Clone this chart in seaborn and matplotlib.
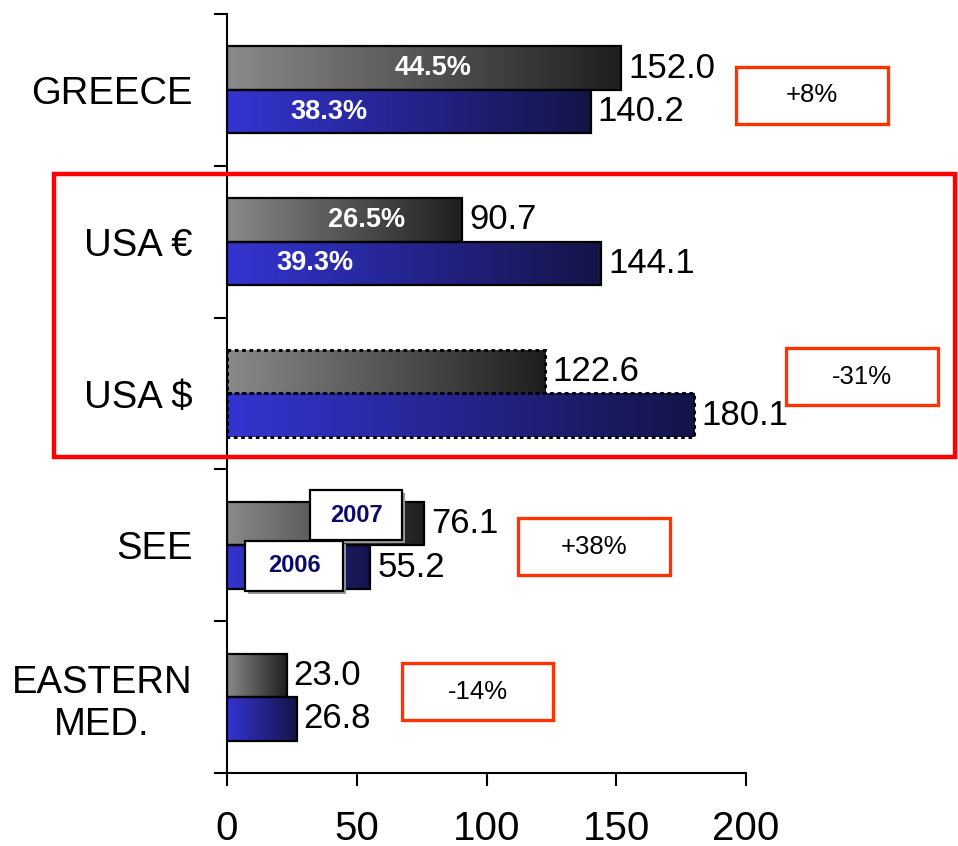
import numpy as np
import pandas as pd
import matplotlib
matplotlib.use("Agg")
import matplotlib.pyplot as plt
import seaborn as sns
from matplotlib.colors import LinearSegmentedColormap
from matplotlib.patches import Rectangle

# ---------------- data ----------------
regions = ["GREECE", "USA €", "USA $", "SEE", "EASTERN\nMED."]
years = ["2007", "2006"]
values_2007 = [152.0, 90.7, 122.6, 76.1, 23.0]
values_2006 = [140.2, 144.1, 180.1, 55.2, 26.8]
share_2007 = ["44.5%", "26.5%", "", "", ""]
share_2006 = ["38.3%", "39.3%", "", "", ""]
changes = ["+8%", "-31%", "+38%", "-14%"]
xticks = [0, 50, 100, 150, 200]

df = pd.DataFrame({
    "region": regions * 2,
    "year": ["2007"] * len(regions) + ["2006"] * len(regions),
    "value": values_2007 + values_2006,
})

W, H = 958, 846
sns.set_theme(style="white")
plt.rcParams["font.family"] = ["Liberation Sans", "DejaVu Sans"]

fig = plt.figure(figsize=(W / 100, H / 100), dpi=100)
ax = fig.add_axes([227 / W, 1 - 773 / H, (746 - 227) / W, (773 - 14) / H])

sns.barplot(data=df, y="region", x="value", hue="year", hue_order=years,
            order=regions, orient="h", width=0.574, gap=0, legend=False,
            palette=["#666666", "#2a2aa0"], ax=ax, saturation=1)

cmaps = {
    "2007": LinearSegmentedColormap.from_list("g", ["#8a8a8a", "#1e1e1e"]),
    "2006": LinearSegmentedColormap.from_list("b", ["#3434d2", "#141448"]),
}
grad = np.linspace(0, 1, 256).reshape(1, -1)
for yr, cont in zip(years, ax.containers):
    for bar in cont:
        x0, y0 = bar.get_x(), bar.get_y()
        w, h = bar.get_width(), bar.get_height()
        im = ax.imshow(grad, cmap=cmaps[yr], aspect="auto",
                       extent=[x0, x0 + w, y0 + h, y0], zorder=2,
                       interpolation="bilinear")
        im.set_clip_path(bar)
        bar.set_facecolor("none")
        bar.set_edgecolor("black")
        bar.set_linewidth(1.6)
        bar.set_zorder(3)
        if abs((y0 + h / 2) - 2) < 0.5:
            bar.set_linestyle((0, (1.2, 1.2)))
            bar.set_linewidth(2.2)

ax.set_xlim(0, 200)
ax.set_ylim(4.5, -0.5)

# value labels
for cont in ax.containers:
    ax.bar_label(cont, fmt="%.1f", padding=5, fontsize=25, color="black")

# share labels inside bars
share_x_2007 = [79.6, 53.6]
share_x_2006 = [39.3, 33.9]
off = 0.574 / 4
for i, (s, xp) in enumerate(zip(share_2007, share_x_2007)):
    if s:
        ax.text(xp, i - off, s, color="white", fontsize=19.5, fontweight="bold",
                ha="center", va="center", zorder=5)
for i, (s, xp) in enumerate(zip(share_2006, share_x_2006)):
    if s:
        ax.text(xp, i + off, s, color="white", fontsize=19.5, fontweight="bold",
                ha="center", va="center", zorder=5)

# axes styling
sns.despine(ax=ax, top=True, right=True)
for sp in ["left", "bottom"]:
    ax.spines[sp].set_color("black")
    ax.spines[sp].set_linewidth(1.5)
ax.set_xticks(xticks)
ax.set_xticklabels([str(t) for t in xticks], fontsize=29)
ax.tick_params(axis="x", direction="out", length=9.5, width=1.5, pad=17,
               colors="black", bottom=True)
ax.set_yticks(np.arange(-0.5, len(regions), 1.0))
ax.set_yticklabels([])
ax.tick_params(axis="y", which="major", direction="out", length=9.5, width=1.5,
               left=True, colors="black")
ax.set_yticks(np.arange(len(regions)), minor=True)
ax.set_yticklabels(regions, minor=True, fontsize=27.5, multialignment="center")
ax.tick_params(axis="y", which="minor", length=0, pad=25, labelcolor="black")
ax.set_xlabel("")
ax.set_ylabel("")
ax.grid(False)


def fig_rect(x0, y0, x1, y1, **kw):
    r = Rectangle((x0 / W, 1 - y1 / H), (x1 - x0) / W, (y1 - y0) / H,
                  transform=fig.transFigure, **kw)
    fig.patches.append(r)


# big red frame around USA rows
fig_rect(54, 174, 955, 457, fill=False, edgecolor="#ff0000", linewidth=3.2)

# change boxes
boxes = [(736, 67, 888, 124), (786, 348, 938, 405), (518, 518, 670, 575), (402, 663, 553, 720)]
for txt, (x0, y0, x1, y1) in zip(changes, boxes):
    fig_rect(x0, y0, x1, y1, facecolor="white", edgecolor="#ff3300", linewidth=2.4)
    fig.text((x0 + x1) / 2 / W, 1 - (y0 + y1) / 2 / H, txt, fontsize=18.5,
             ha="center", va="center", color="black")

# year tags
tags = [("2007", (310, 490, 402, 540)), ("2006", (245, 541, 343, 591))]
for txt, (x0, y0, x1, y1) in tags:
    fig_rect(x0 + 3, y0 + 3, x1 + 3, y1 + 3, facecolor="#9a9a9a", edgecolor="none", zorder=6)
    fig_rect(x0, y0, x1, y1, facecolor="white", edgecolor="black", linewidth=1.6, zorder=7)
    fig.text((x0 + x1) / 2 / W, 1 - (y0 + y1) / 2 / H, txt, fontsize=17,
             fontweight="bold", ha="center", va="center", color="#0a0a6a", zorder=8)

fig.savefig("out.png", dpi=100, facecolor="white")
